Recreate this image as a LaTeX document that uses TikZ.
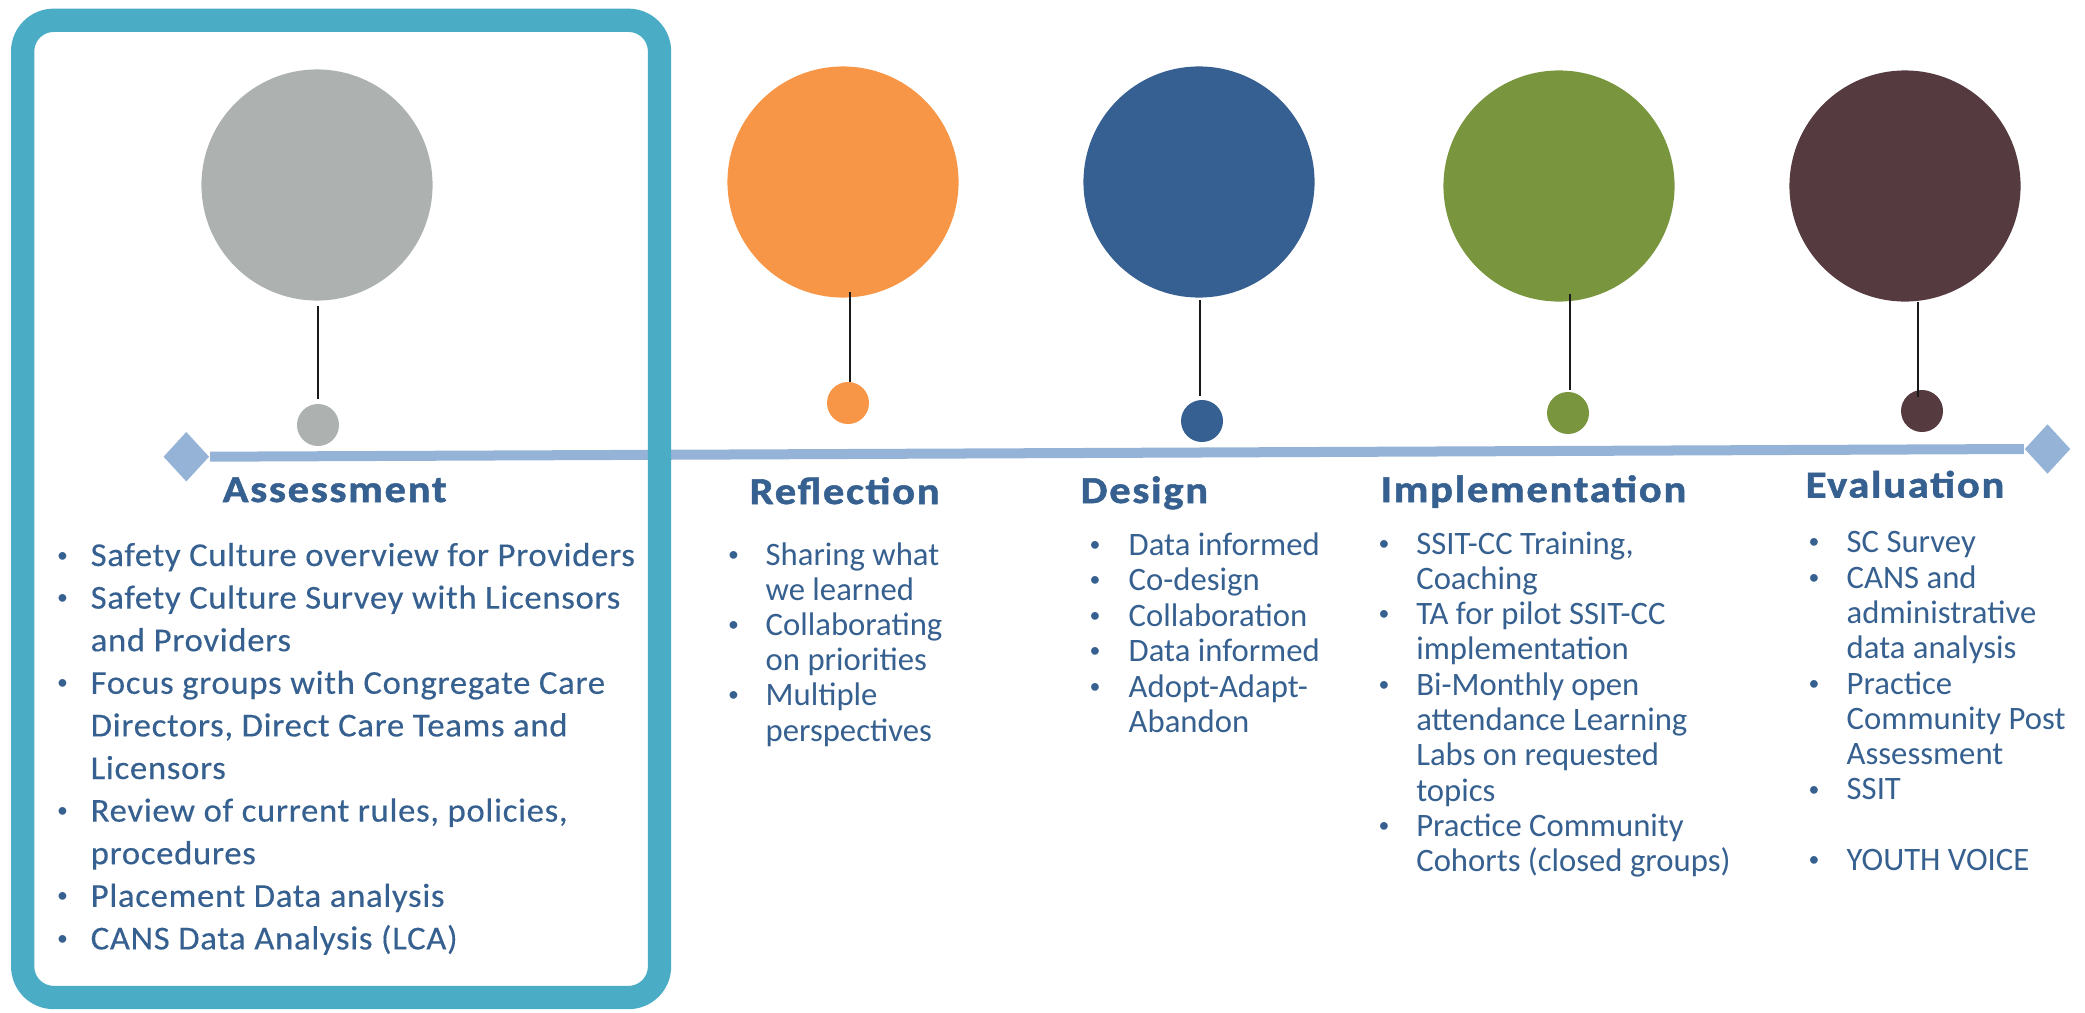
\documentclass[tikz,border=0pt]{standalone}
\usepackage{fontspec}
\setmainfont{Carlito}
\newfontfamily\bodyfam{Carlito}
\newfontfamily\assessfam{Carlito}[FakeStretch=1.04,LetterSpace=2,FakeBold=0.3]
\newfontfamily\headfam{Carlito}[FakeStretch=1.12,LetterSpace=4.6,FakeBold=1.4]
\newcommand\bodyfont{\bodyfam\fontsize{9.3}{10}\selectfont}
\newcommand\assessfont{\assessfam\fontsize{9.5}{12}\selectfont}
\newcommand\headfont{\headfam\bfseries\fontsize{10.8}{13}\selectfont}
\newcommand\bulletfont{\bodyfam\fontsize{6.2}{8}\selectfont}
\usetikzlibrary{shapes.geometric}

\definecolor{txtblue}{HTML}{36608F}
\definecolor{tlblue}{HTML}{95B3D7}
\definecolor{frame}{HTML}{4BACC6}
\definecolor{cgray}{HTML}{ADB2B1}
\definecolor{corange}{HTML}{F79646}
\definecolor{cblue}{HTML}{376092}
\definecolor{cgreen}{HTML}{79963F}
\definecolor{cmaroon}{HTML}{553A3F}
\definecolor{stemcol}{HTML}{1A1A1A}

\tikzset{
  txt/.style={anchor=base west, inner sep=0, text=txtblue, font=\bodyfont},
  atxt/.style={anchor=base west, inner sep=0, text=txtblue, font=\assessfont},
  bul/.style={anchor=base, inner sep=0, yshift=1.1pt, text=txtblue, font=\bulletfont},
  head/.style={anchor=base west, inner sep=0, text=txtblue, font=\headfont},
  bigdot/.style={circle, fill=#1, minimum size=2.31cm, inner sep=0},
  smalldot/.style={circle, fill=#1, minimum size=0.42cm, inner sep=0},
  stem/.style={draw=stemcol, line width=0.02cm},
  tipdia/.style={diamond, fill=tlblue, minimum width=0.46cm, minimum height=0.5cm, inner sep=0},
}

\begin{document}
\begin{tikzpicture}[x=0.01cm, y=-0.01cm]
\useasboundingbox (0,0) rectangle (2085,1012);

% timeline with diamond ends
\node[tipdia] (ldia) at (186.3,456.7) {};
\node[tipdia] (rdia) at (2047.5,449) {};
\draw[tlblue, line width=0.1cm] (ldia.east) -- (rdia.west);

% phase circles
\node[bigdot=cgray]   (c1) at (317,185) {};
\node[bigdot=corange] (c2) at (843,182) {};
\node[bigdot=cblue]   (c3) at (1199,182) {};
\node[bigdot=cgreen]  (c4) at (1559,186) {};
\node[bigdot=cmaroon] (c5) at (1905,186) {};

% small markers above the timeline
\node[smalldot=cgray]   (d1) at (318,425) {};
\node[smalldot=corange] (d2) at (848,403) {};
\node[smalldot=cblue]   (d3) at (1202,421) {};
\node[smalldot=cgreen]  (d4) at (1568,413) {};
\node[smalldot=cmaroon] (d5) at (1922,411) {};

% stems
\coordinate (s1a) at (317.5,306); \coordinate (s1b) at (317.5,399);
\coordinate (s2a) at (850,292);   \coordinate (s2b) at (850,382);
\coordinate (s3a) at (1200,300);  \coordinate (s3b) at (1200,396);
\coordinate (s4a) at (1570,294);  \coordinate (s4b) at (1570,390);
\coordinate (s5a) at (1918,302);  \coordinate (s5b) at (1918,397);
\foreach \k in {1,...,5} \draw[stem] (s\k a) -- (s\k b);

% highlight frame around the first phase
\draw[frame, line width=0.233cm, rounded corners=0.31cm] (22.7,20.3) rectangle (659.5,997.5);

% headings
\node[head] (h1) at (222,502) {Assessment};
\node[head] (h2) at (749,504) {Reflection};
\node[head] (h3) at (1080,503) {Design};
\node[head] (h4) at (1380,502) {Implementation};
\node[head] (h5) at (1805,497.5) {Evaluation};

% Assessment items
\foreach \i/\t in {1/Safety Culture overview for Providers,
                   2/Safety Culture Survey with Licensors,
                   3/and Providers,
                   4/Focus groups with Congregate Care,
                   {5/Directors, Direct Care Teams and},
                   6/Licensors,
                   {7/Review of current rules, policies,},
                   8/procedures,
                   9/Placement Data analysis,
                   10/CANS Data Analysis (LCA)}
  \node[atxt] (a\i) at (90,{566+(\i-1)*42.6}) {\t};
\foreach \i in {1,2,4,7,9,10}
  \node[bul] (ab\i) at (62.5,{566+(\i-1)*42.6}) {\textbullet};

% Reflection items
\foreach \i/\t in {1/Sharing what, 2/we learned, 3/Collaborating,
                   4/on priorities, 5/Multiple, 6/perspectives}
  \node[txt] (r\i) at (765,{565+(\i-1)*35.2}) {\t};
\foreach \i in {1,3,5}
  \node[bul] (rb\i) at (733.6,{565+(\i-1)*35.2}) {\textbullet};

% Design items
\foreach \i/\t in {1/Data informed, 2/Co-design, 3/Collaboration,
                   4/Data informed, 5/Adopt-Adapt-, 6/Abandon}
  \node[txt] (g\i) at (1128,{555.4+(\i-1)*35.4}) {\t};
\foreach \i in {1,...,5}
  \node[bul] (gb\i) at (1095,{555.4+(\i-1)*35.4}) {\textbullet};

% Implementation items
\foreach \i/\t in {{1/SSIT-CC Training,}, 2/Coaching, 3/TA for pilot SSIT-CC,
                   4/implementation, 5/Bi-Monthly open, 6/attendance Learning,
                   7/Labs on requested, 8/topics, 9/Practice Community,
                   10/Cohorts (closed groups)}
  \node[txt] (m\i) at (1415.6,{554+(\i-1)*35.3}) {\t};
\foreach \i in {1,3,5,9}
  \node[bul] (mb\i) at (1384,{554+(\i-1)*35.3}) {\textbullet};

% Evaluation items
\foreach \i/\t in {1/SC Survey, 2/CANS and, 3/administrative, 4/data analysis,
                   5/Practice, 6/Community Post, 7/Assessment, 8/SSIT,
                   10/YOUTH VOICE}
  \node[txt] (e\i) at (1846,{552.8+(\i-1)*35.3}) {\t};
\foreach \i in {1,2,5,8,10}
  \node[bul] (eb\i) at (1814,{552.8+(\i-1)*35.3}) {\textbullet};
\end{tikzpicture}
\end{document}
